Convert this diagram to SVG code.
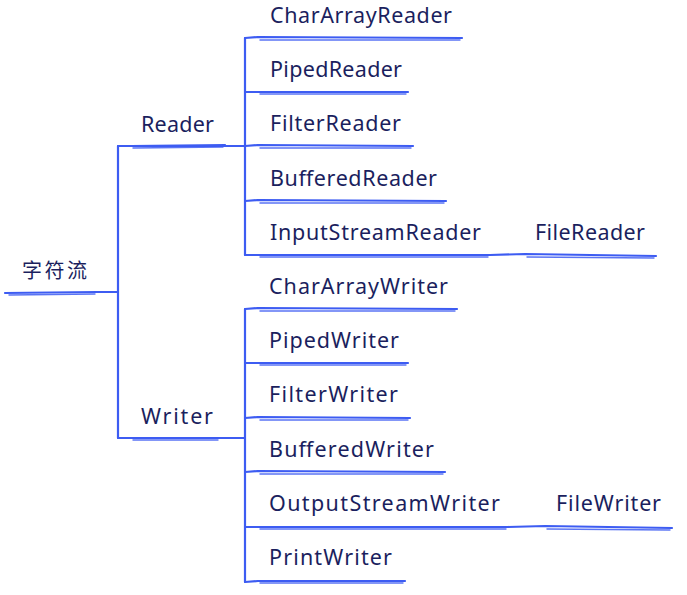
<svg xmlns="http://www.w3.org/2000/svg" width="687" height="595" viewBox="0 0 687 595">
<style>
text{font-family:"Noto Sans","Open Sans",sans-serif;font-size:21.5px;fill:#1b1f5e}
.c{font-family:"Noto Sans CJK SC","Noto Sans",sans-serif;font-size:20px}
.l{fill:none;stroke:#3d5cf2;stroke-width:2.2;stroke-linecap:round;stroke-linejoin:round}
.u{fill:none;stroke:#3d5cf2;stroke-width:1.4;stroke-linecap:round;opacity:.85}
</style>
<rect width="687" height="595" fill="#fff"/>
<g id="connectors">
<path class="l" d="M5 293 L97 292 M97 292 L118 292 M118 146 L118 438"/>
<path class="u" d="M9 295 L95 294"/>
<path class="l" d="M118 146 L245 146 M131 146 L225 145 M118 438 L245 438 M131 438 L220 438"/>
<path class="u" d="M133 148 L223 147 M133 440 L218 440"/>
<path class="l" d="M245 38 L245 255"/>
<path class="l" d="M245 38 L258 37 L462 38 M245 92 L258 92 L408 92 M245 146 L258 145 L413 146 M245 201 L258 200 L446 201 M245 255 L490 255 L525 254 L656 256"/>
<path class="u" d="M260 40 L460 40 M260 94 L406 94 M260 148 L411 148 M260 203 L444 203 M260 257 L488 257 M527 257 L654 258"/>
<path class="l" d="M245 309 L245 582"/>
<path class="l" d="M245 309 L258 308 L457 309 M245 363 L258 363 L408 363 M245 418 L258 417 L410 418 M245 472 L258 471 L445 472 M245 527 L508 527 L545 526 L672 528 M245 582 L258 581 L405 581"/>
<path class="u" d="M260 311 L455 311 M260 365 L406 365 M260 420 L408 420 M260 474 L443 474 M260 529 L506 529 M547 529 L670 530 M260 583 L403 583"/>
</g>
<g id="root"><text class="c" x="22" y="278" textLength="65">字符流</text></g>
<g id="reader"><text x="141" y="132" textLength="73">Reader</text></g>
<g id="writer"><text x="141" y="424" textLength="72">Writer</text></g>
<g id="chararrayreader"><text x="270" y="23" textLength="182">CharArrayReader</text></g>
<g id="pipedreader"><text x="270" y="77" textLength="132">PipedReader</text></g>
<g id="filterreader"><text x="270" y="131" textLength="131">FilterReader</text></g>
<g id="bufferedreader"><text x="270" y="186" textLength="167">BufferedReader</text></g>
<g id="inputstreamreader"><text x="270" y="240" textLength="211">InputStreamReader</text></g>
<g id="filereader"><text x="535" y="240" textLength="110">FileReader</text></g>
<g id="chararraywriter"><text x="269" y="294" textLength="179">CharArrayWriter</text></g>
<g id="pipedwriter"><text x="269" y="348" textLength="130">PipedWriter</text></g>
<g id="filterwriter"><text x="269" y="402" textLength="129">FilterWriter</text></g>
<g id="bufferedwriter"><text x="269" y="457" textLength="165">BufferedWriter</text></g>
<g id="outputstreamwriter"><text x="269" y="511" textLength="231">OutputStreamWriter</text></g>
<g id="filewriter"><text x="556" y="511" textLength="105">FileWriter</text></g>
<g id="printwriter"><text x="269" y="565" textLength="123">PrintWriter</text></g>
</svg>
